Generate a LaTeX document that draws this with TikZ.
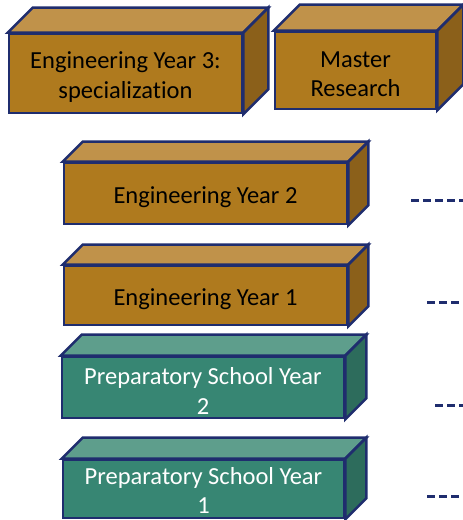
\documentclass[tikz,border=0pt]{standalone}
\usepackage{fontspec}
\setmainfont{Carlito}[Ligatures=NoCommon]

\definecolor{navyline}{RGB}{31,45,110}
\definecolor{engfront}{RGB}{175,122,30}
\definecolor{engtop}{RGB}{192,146,74}
\definecolor{engside}{RGB}{139,96,26}
\definecolor{prepfront}{RGB}{55,134,115}
\definecolor{preptop}{RGB}{94,158,140}
\definecolor{prepside}{RGB}{45,108,92}

\tikzset{
  blockline/.style={draw=navyline, line width=2.6pt, line join=miter},
  blocktext/.style={align=center, inner sep=0pt, yshift=-3.5pt,
    font=\fontsize{24.5}{29.5}\selectfont},
  engblock/.style={blockline, fill=engfront, inner sep=0pt},
  prepblock/.style={blockline, fill=prepfront, inner sep=0pt},
  engtext/.style={blocktext, text=black},
  preptext/.style={blocktext, text=white},
  yearlink/.style={draw=navyline, line width=3pt, dash pattern=on 8pt off 4pt}
}

% top and side faces of a block: node, depth, top colour, side colour
\newcommand{\blockfaces}[4]{%
  \draw[blockline, fill=#3] (#1.north west) -- ++(#2,#2)
    -- ([shift={(#2,#2)}]#1.north east) -- (#1.north east) -- cycle;
  \draw[blockline, fill=#4] (#1.north east) -- ++(#2,#2)
    -- ([shift={(#2,#2)}]#1.south east) -- (#1.south east) -- cycle;
}

\begin{document}
\begin{tikzpicture}[x=1pt, y=1pt]
  \useasboundingbox (0,0) rectangle (463,520);

  % Engineering years
  \node[engblock, minimum width=233, minimum height=79,
    label={[engtext]center:{Engineering Year 3:\\specialization}}] (eng3) at (125.5,446.5) {};
  \blockfaces{eng3}{25}{engtop}{engside}

  \node[engblock, minimum width=161, minimum height=77,
    label={[engtext]center:{Master\\Research}}] (master) at (355.5,449.5) {};
  \blockfaces{master}{26}{engtop}{engside}

  \node[engblock, minimum width=283, minimum height=61,
    label={[engtext]center:Engineering Year 2}] (eng2) at (205.5,326.5) {};
  \blockfaces{eng2}{20}{engtop}{engside}

  \node[engblock, minimum width=283, minimum height=59,
    label={[engtext]center:Engineering Year 1}] (eng1) at (205.5,224.5) {};
  \blockfaces{eng1}{20}{engtop}{engside}

  % Preparatory school
  \node[prepblock, minimum width=282, minimum height=61,
    label={[preptext]center:{Preparatory School Year\\2}}] (prep2) at (203,132.5) {};
  \blockfaces{prep2}{21}{preptop}{prepside}

  \node[prepblock, minimum width=281, minimum height=58,
    label={[preptext, yshift=2pt]center:{Preparatory School Year\\1}}] (prep1) at (203.5,31) {};
  \blockfaces{prep1}{21}{preptop}{prepside}

  % Dashed links
  \coordinate (eng2a) at (411,319);
  \coordinate (eng2b) at (463,319);
  \coordinate (eng1a) at (427,217);
  \coordinate (eng1b) at (463,217);
  \coordinate (prep2a) at (435,114);
  \coordinate (prep2b) at (463,114);
  \coordinate (prep1a) at (427,23);
  \coordinate (prep1b) at (463,23);
  \draw[yearlink] (eng2a) -- (eng2b);
  \draw[yearlink] (eng1a) -- (eng1b);
  \draw[yearlink] (prep2a) -- (prep2b);
  \draw[yearlink] (prep1a) -- (prep1b);

\end{tikzpicture}
\end{document}
